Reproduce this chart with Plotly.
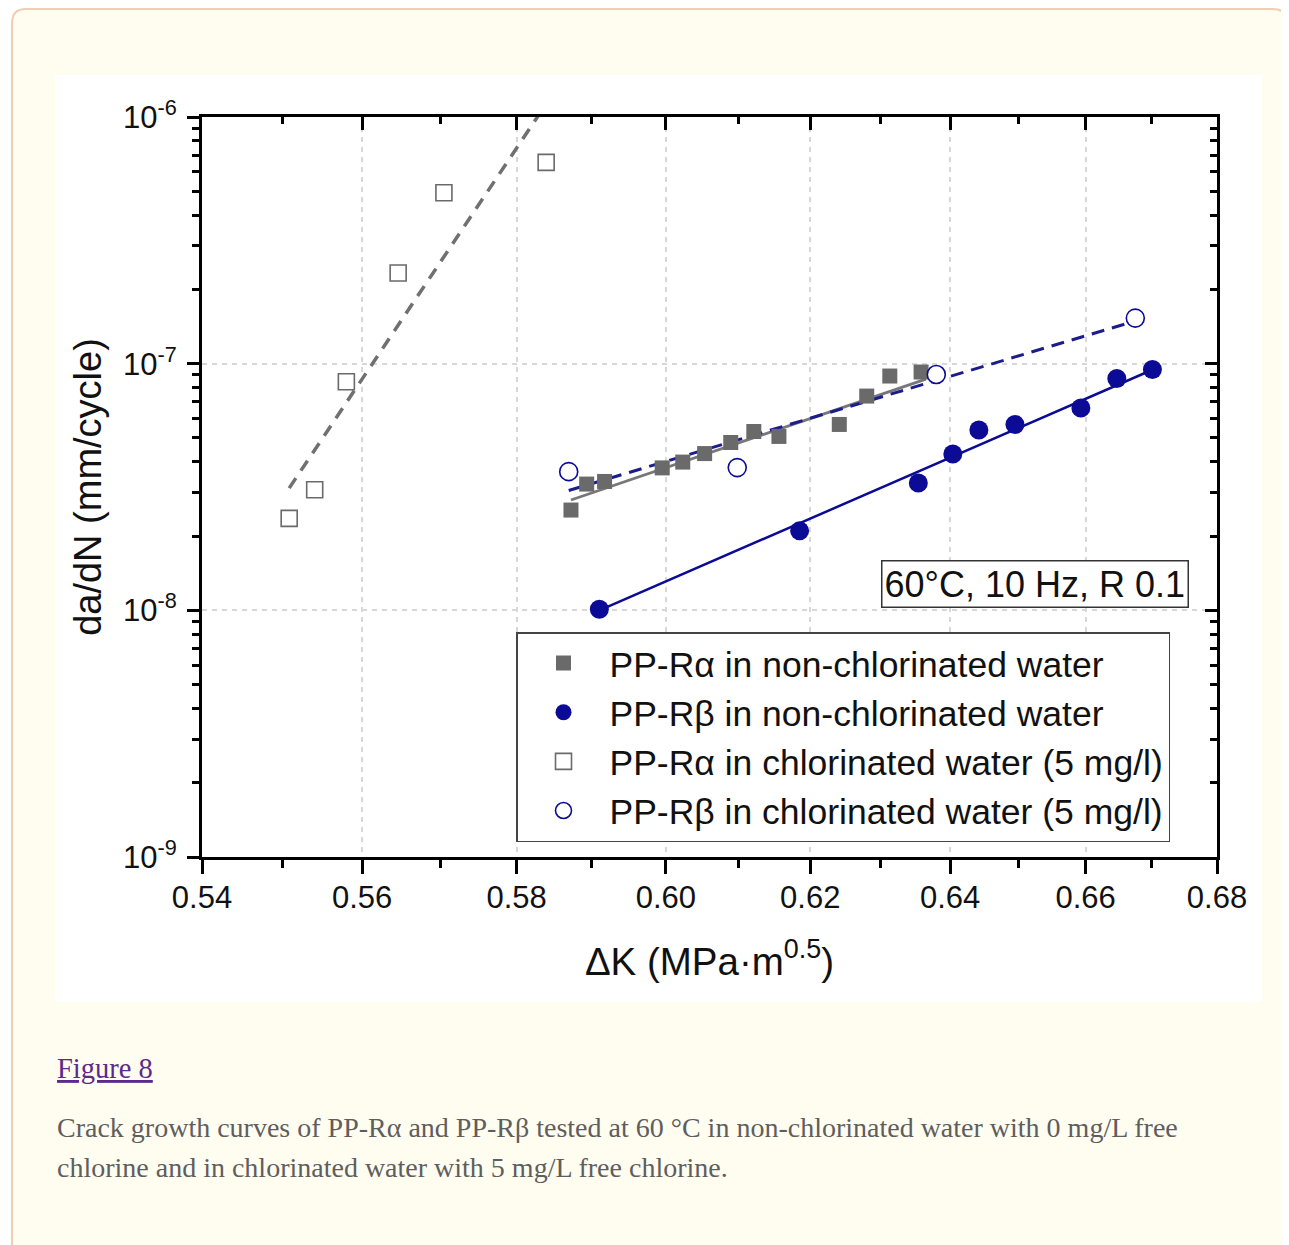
import math
import plotly.graph_objects as go

# ---------------- data ----------------
# PP-R alpha, non-chlorinated water (filled squares)
alpha_x = [0.5872, 0.5893, 0.5917, 0.5995, 0.6023, 0.6053, 0.6089, 0.6121, 0.6156, 0.6241, 0.6280, 0.6313, 0.6358]
alpha_y = [2.55e-8, 3.25e-8, 3.33e-8, 3.78e-8, 3.99e-8, 4.32e-8, 4.79e-8, 5.31e-8, 5.07e-8, 5.67e-8, 7.39e-8, 8.91e-8, 9.25e-8]

# PP-R beta, non-chlorinated water (filled circles)
beta_x = [0.5910, 0.6185, 0.6354, 0.6404, 0.6442, 0.6495, 0.6593, 0.6647, 0.6701]
beta_y = [1.01e-8, 2.10e-8, 3.28e-8, 4.30e-8, 5.38e-8, 5.67e-8, 6.61e-8, 8.71e-8, 9.47e-8]

# PP-R alpha, chlorinated water 5 mg/l (open squares)
alpha_cl_x = [0.5508, 0.5540, 0.5580, 0.5646, 0.5705, 0.5839]
alpha_cl_y = [2.36e-8, 3.08e-8, 8.45e-8, 2.33e-7, 4.93e-7, 6.55e-7]

# PP-R beta, chlorinated water 5 mg/l (open circles)
beta_cl_x = [0.5869, 0.6098, 0.6380, 0.6675]
beta_cl_y = [3.65e-8, 3.79e-8, 9.04e-8, 1.53e-7]

# fitted power-law lines (end points)
fit_alpha_x = [0.5872, 0.6365]
fit_alpha_y = [2.80e-8, 8.65e-8]
fit_beta_x = [0.5910, 0.6701]
fit_beta_y = [1.00e-8, 9.45e-8]
fit_alpha_cl_x = [0.5508, 0.5839]
fit_alpha_cl_y = [3.13e-8, 1.13e-6]
fit_beta_cl_x = [0.5869, 0.6675]
fit_beta_cl_y = [3.06e-8, 1.49e-7]

legend_names = [
    "PP-Rα in non-chlorinated water",
    "PP-Rβ in non-chlorinated water",
    "PP-Rα in chlorinated water (5 mg/l)",
    "PP-Rβ in chlorinated water (5 mg/l)",
]

x_tickvals = [0.54, 0.56, 0.58, 0.60, 0.62, 0.64, 0.66, 0.68]
x_ticktext = ["0.54", "0.56", "0.58", "0.60", "0.62", "0.64", "0.66", "0.68"]
x_minor = [0.55, 0.57, 0.59, 0.61, 0.63, 0.65, 0.67]
y_tickvals = [1e-9, 1e-8, 1e-7, 1e-6]
y_ticktext = ["10<sup>-9</sup>", "10<sup>-8</sup>", "10<sup>-7</sup>", "10<sup>-6</sup>"]
y_minor = [k * 10.0 ** e for e in (-9, -8, -7) for k in range(2, 10)]

x_title = "ΔK (MPa·m<sup>0.5</sup>)"
y_title = "da/dN (mm/cycle)"
cond_text = "60°C, 10 Hz, R 0.1"
fig_label = "Figure 8"
caption1 = "Crack growth curves of PP-Rα and PP-Rβ tested at 60 °C in non-chlorinated water with 0 mg/L free"
caption2 = "chlorine and in chlorinated water with 5 mg/L free chlorine."

# ---------------- layout geometry ----------------
OFF = 8                      # page body margin of the browser
W, H = 1289 - OFF, 1245 - OFF
L, T = 202 - OFF, 117 - OFF  # plot area top-left in figure coordinates
PW, PH = 1015, 740
R, B = W - L - PW, H - T - PH

def px(xp):
    """target-screen x pixel -> paper fraction"""
    return (xp - OFF - L) / PW

def py(yp):
    """target-screen y pixel -> paper fraction"""
    return (T + PH - (yp - OFF)) / PH

GRAY = "#6a6a6a"
NAVY = "#0b0b96"
FONT = "Liberation Sans, Arial, sans-serif"
SERIF = "Liberation Serif, Times New Roman, serif"

fig = go.Figure()

# fit lines
fig.add_trace(go.Scatter(x=fit_alpha_x, y=fit_alpha_y, mode="lines",
                         line=dict(color="#777777", width=2.8), showlegend=False, hoverinfo="skip"))
fig.add_trace(go.Scatter(x=fit_beta_cl_x, y=fit_beta_cl_y, mode="lines",
                         line=dict(color="#1c1c8c", width=3, dash="13px,8px"), showlegend=False, hoverinfo="skip"))
fig.add_trace(go.Scatter(x=fit_beta_x, y=fit_beta_y, mode="lines",
                         line=dict(color=NAVY, width=2.5), showlegend=False, hoverinfo="skip"))
fig.add_trace(go.Scatter(x=fit_alpha_cl_x, y=fit_alpha_cl_y, mode="lines",
                         line=dict(color="#707070", width=3.5, dash="12px,9px"), showlegend=False, hoverinfo="skip"))

# markers
fig.add_trace(go.Scatter(x=alpha_x, y=alpha_y, mode="markers", name=legend_names[0],
                         marker=dict(symbol="square", size=15, color=GRAY, line=dict(width=0))))
fig.add_trace(go.Scatter(x=beta_x, y=beta_y, mode="markers", name=legend_names[1],
                         marker=dict(symbol="circle", size=19, color=NAVY, line=dict(width=0))))
fig.add_trace(go.Scatter(x=alpha_cl_x, y=alpha_cl_y, mode="markers", name=legend_names[2],
                         marker=dict(symbol="square", size=16, color="white", line=dict(width=1.6, color=GRAY))))
fig.add_trace(go.Scatter(x=beta_cl_x, y=beta_cl_y, mode="markers", name=legend_names[3],
                         marker=dict(symbol="circle", size=18, color="white", line=dict(width=1.6, color=NAVY))))

# dummy trace for mirrored (inside) top/right axes
fig.add_trace(go.Scatter(x=[0.6], y=[1e-7], xaxis="x2", yaxis="y2", mode="markers",
                         marker=dict(opacity=0), showlegend=False, hoverinfo="skip"))

xr = [math.log10(0.54), math.log10(0.68)]
yr = [-9, -6]

axis_font = dict(family=FONT, size=31, color="#111111")

fig.update_layout(
    width=W, height=H,
    margin=dict(l=L, r=R, t=T, b=B, pad=0, autoexpand=False),
    paper_bgcolor="white",
    plot_bgcolor="white",
    font=dict(family=FONT, color="#111111"),
    xaxis=dict(
        type="log", range=xr, autorange=False,
        tickmode="array", tickvals=x_tickvals, ticktext=x_ticktext,
        ticks="outside", ticklen=14, tickwidth=2.5, tickcolor="black",
        tickfont=axis_font, ticklabelstandoff=-3,
        showline=True, linewidth=3, linecolor="black",
        showgrid=True, gridcolor="#d8d8d8", gridwidth=1.5, griddash="5px,5px",
        zeroline=False, automargin=False,
        minor=dict(tickmode="array", tickvals=x_minor, ticks="outside", ticklen=8,
                   tickwidth=2.5, tickcolor="black", showgrid=False),
        title=dict(text=x_title, font=dict(family=FONT, size=38.5, color="#111111"), standoff=34),
    ),
    yaxis=dict(
        type="log", range=yr, autorange=False,
        tickmode="array", tickvals=y_tickvals, ticktext=y_ticktext,
        ticks="outside", ticklen=12, tickwidth=2.5, tickcolor="black",
        tickfont=axis_font, ticklabelstandoff=4,
        showline=True, linewidth=3, linecolor="black",
        showgrid=True, gridcolor="#d8d8d8", gridwidth=1.5, griddash="5px,5px",
        zeroline=False, automargin=False,
        minor=dict(tickmode="array", tickvals=y_minor, ticks="outside", ticklen=7,
                   tickwidth=2.5, tickcolor="black", showgrid=False),
        title=dict(text=y_title, font=dict(family=FONT, size=38, color="#111111"), standoff=10),
    ),
    xaxis2=dict(
        type="log", range=xr, autorange=False, overlaying="x", side="top", anchor="y2",
        tickmode="array", tickvals=x_tickvals, ticks="inside", ticklen=13, tickwidth=2.5,
        tickcolor="black", showticklabels=False, showline=True, linewidth=3, linecolor="black",
        showgrid=False, zeroline=False, automargin=False,
        minor=dict(tickmode="array", tickvals=x_minor, ticks="inside", ticklen=7,
                   tickwidth=2.5, tickcolor="black", showgrid=False),
    ),
    yaxis2=dict(
        type="log", range=yr, autorange=False, overlaying="y", side="right", anchor="x2",
        tickmode="array", tickvals=y_tickvals, ticks="inside", ticklen=12, tickwidth=2.5,
        tickcolor="black", showticklabels=False, showline=True, linewidth=3, linecolor="black",
        showgrid=False, zeroline=False, automargin=False,
        minor=dict(tickmode="array", tickvals=y_minor, ticks="inside", ticklen=7,
                   tickwidth=2.5, tickcolor="black", showgrid=False),
    ),
    legend=dict(
        x=px(516), y=py(632), xanchor="left", yanchor="top",
        bgcolor="white", bordercolor="#444444", borderwidth=1.5,
        font=dict(family=FONT, size=35.5, color="#111111"),
        itemwidth=82, tracegroupgap=0,
    ),
    showlegend=True,
)

# page decorations: beige rounded card and white figure panel
x0, y0, x1, y1, r = px(12), py(9), px(1287), py(1262), 14
rx, ry = r / PW, r / PH
card_path = (
    f"M {x0+rx},{y0} L {x1-rx},{y0} Q {x1},{y0} {x1},{y0-ry} "
    f"L {x1},{y1} L {x0},{y1} L {x0},{y0-ry} Q {x0},{y0} {x0+rx},{y0} Z"
)
fig.add_shape(type="path", path=card_path, xref="paper", yref="paper",
              fillcolor="#fffcf0", line=dict(color="#f0cdb3", width=2), layer="below")
fig.add_shape(type="rect", xref="paper", yref="paper",
              x0=px(55), x1=px(1262), y0=py(1002), y1=py(75),
              fillcolor="white", line=dict(width=0), layer="below")

# condition label box
fig.add_annotation(text=cond_text, xref="paper", yref="paper", x=px(1035), y=py(584),
                   xanchor="center", yanchor="middle", showarrow=False,
                   font=dict(family=FONT, size=36, color="#111111"),
                   bgcolor="white", bordercolor="#333333", borderwidth=1.5, borderpad=2)

# caption
fig.add_annotation(text=f"<u>{fig_label}</u>", xref="paper", yref="paper", x=px(55), y=py(1068),
                   xanchor="left", yanchor="middle", showarrow=False,
                   font=dict(family=SERIF, size=28.5, color="#5b2a8c"))
fig.add_annotation(text=caption1, xref="paper", yref="paper", x=px(55), y=py(1127),
                   xanchor="left", yanchor="middle", showarrow=False,
                   font=dict(family=SERIF, size=28, color="#5e5e5e"))
fig.add_annotation(text=caption2, xref="paper", yref="paper", x=px(55), y=py(1167),
                   xanchor="left", yanchor="middle", showarrow=False,
                   font=dict(family=SERIF, size=28, color="#5e5e5e"))

fig.write_html("out.html")
